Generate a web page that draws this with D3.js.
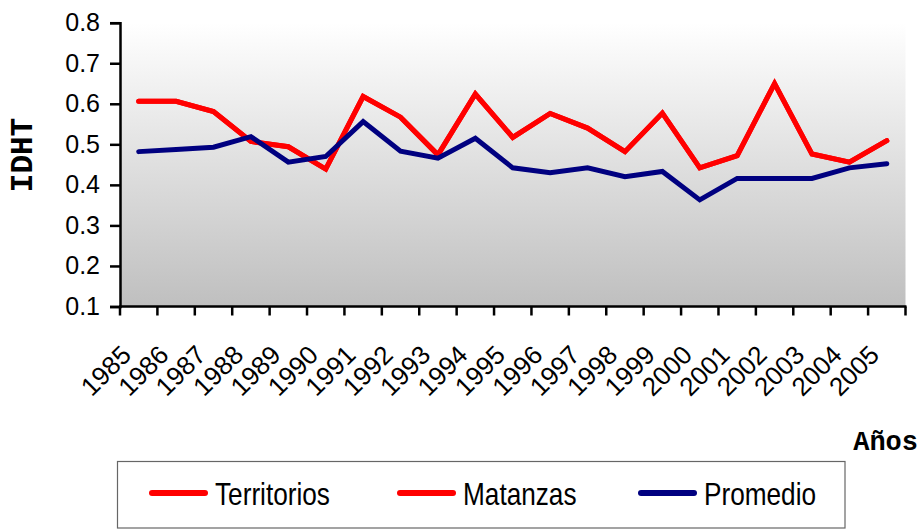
<!DOCTYPE html>
<html>
<head>
<meta charset="utf-8">
<script src="https://cdn.jsdelivr.net/npm/d3@7"></script>
<style>
  body { margin: 0; background: #fff; }
  svg { display: block; }
</style>
</head>
<body>
<svg id="chart" width="920" height="529"></svg>
<script>
const years = ["1985", "1986", "1987", "1988", "1989", "1990", "1991", "1992", "1993", "1994",
  "1995", "1996", "1997", "1998", "1999", "2000", "2001", "2002", "2003", "2004", "2005"];

// Territorios queda oculto bajo Matanzas en la imagen
const territorios = [0.606, 0.606, 0.581, 0.507, 0.494, 0.439, 0.618, 0.567, 0.474, 0.624,
  0.517, 0.576, 0.540, 0.482, 0.577, 0.442, 0.472, 0.650, 0.476, 0.456, 0.509];
const matanzas = [0.606, 0.606, 0.581, 0.507, 0.494, 0.439, 0.618, 0.567, 0.474, 0.624,
  0.517, 0.576, 0.540, 0.482, 0.577, 0.442, 0.472, 0.650, 0.476, 0.456, 0.509];
const promedio = [0.482, 0.487, 0.493, 0.519, 0.456, 0.470, 0.556, 0.483, 0.466, 0.515,
  0.442, 0.430, 0.442, 0.420, 0.433, 0.363, 0.416, 0.416, 0.416, 0.442, 0.452];

const yTicks = [0.1, 0.2, 0.3, 0.4, 0.5, 0.6, 0.7, 0.8];
const seriesNames = ["Territorios", "Matanzas", "Promedio"];
const seriesColors = ["#ff0000", "#ff0000", "#000080"];

const svg = d3.select("#chart");
const plotLeft = 120, plotRight = 905.5, plotTop = 22.7, plotBottom = 306.5;

const x = d3.scaleBand().domain(years).range([plotLeft, plotRight]);
const y = d3.scaleLinear().domain([0.1, 0.8]).range([plotBottom, plotTop]);

// fondo degradado
const grad = svg.append("defs").append("linearGradient")
  .attr("id", "bg").attr("x1", 0).attr("y1", 0).attr("x2", 0).attr("y2", 1);
grad.append("stop").attr("offset", "0%").attr("stop-color", "#ffffff");
grad.append("stop").attr("offset", "100%").attr("stop-color", "#bfbfbf");

svg.append("rect")
  .attr("x", plotLeft).attr("y", plotTop)
  .attr("width", plotRight - plotLeft).attr("height", plotBottom - plotTop)
  .attr("fill", "url(#bg)");

// eje Y
const yAxis = svg.append("g")
  .attr("transform", `translate(${plotLeft},0)`)
  .call(d3.axisLeft(y).tickValues(yTicks).tickFormat(d3.format(".1f")).tickSize(10).tickPadding(10));
yAxis.select(".domain").attr("stroke", "#000").attr("stroke-width", 2.5);
yAxis.selectAll(".tick line").attr("stroke", "#000").attr("stroke-width", 2.5);
yAxis.selectAll("text")
  .attr("font-family", "'Liberation Sans', Arial, sans-serif")
  .attr("font-size", 25).attr("fill", "#000");

// eje X: marcas en los bordes de cada categoría
const xAxis = svg.append("g").attr("transform", `translate(0,${plotBottom})`);
const edges = years.map(d => x(d)).concat([plotRight]);
xAxis.selectAll("line.tk").data(edges).join("line")
  .attr("class", "tk")
  .attr("x1", d => d).attr("x2", d => d)
  .attr("y1", 0).attr("y2", 9)
  .attr("stroke", "#000").attr("stroke-width", 2.5);
xAxis.append("line")
  .attr("x1", plotLeft - 1).attr("x2", plotRight + 1)
  .attr("stroke", "#000").attr("stroke-width", 2.5);
xAxis.selectAll("text").data(years).join("text")
  .attr("transform", d => `translate(${x(d) + x.bandwidth() / 2 - 6},50) rotate(-45)`)
  .attr("text-anchor", "end")
  .attr("font-family", "'Liberation Sans', Arial, sans-serif")
  .attr("font-size", 26)
  .text(d => d);

// líneas
const line = d3.line()
  .x((d, i) => x(years[i]) + x.bandwidth() / 2)
  .y(d => y(d));

[territorios, matanzas, promedio].forEach((vals, k) => {
  svg.append("path")
    .datum(vals)
    .attr("d", line)
    .attr("fill", "none")
    .attr("stroke", seriesColors[k])
    .attr("stroke-width", 5)
    .attr("stroke-linejoin", "miter")
    .attr("stroke-linecap", "round");
});

// títulos de ejes
svg.append("text")
  .attr("transform", "translate(32,155) rotate(-90)")
  .attr("text-anchor", "middle")
  .attr("font-family", "'Liberation Mono', 'DejaVu Sans Mono', monospace")
  .attr("font-weight", "bold").attr("font-size", 31)
  .text("IDHT");

svg.append("text")
  .attr("x", 918).attr("y", 450)
  .attr("text-anchor", "end")
  .attr("font-family", "'Liberation Mono', 'DejaVu Sans Mono', monospace")
  .attr("font-weight", "bold").attr("font-size", 27)
  .text("Años");

// leyenda
const legend = svg.append("g");
legend.append("rect")
  .attr("x", 117.5).attr("y", 461.5)
  .attr("width", 727.5).attr("height", 66.5)
  .attr("fill", "#fff").attr("stroke", "#666").attr("stroke-width", 1.2);

const legendX = [152, 400, 641];
seriesNames.forEach((name, k) => {
  const g = legend.append("g").attr("transform", `translate(${legendX[k]},0)`);
  g.append("line")
    .attr("x1", 0).attr("x2", 53)
    .attr("y1", 493).attr("y2", 493)
    .attr("stroke", seriesColors[k]).attr("stroke-width", 6)
    .attr("stroke-linecap", "round");
  // texto estrechado como en el original
  g.append("text")
    .attr("transform", "translate(63,505) scale(0.845,1)")
    .attr("font-family", "'Liberation Sans', Arial, sans-serif")
    .attr("font-size", 31)
    .text(name);
});
</script>
</body>
</html>
